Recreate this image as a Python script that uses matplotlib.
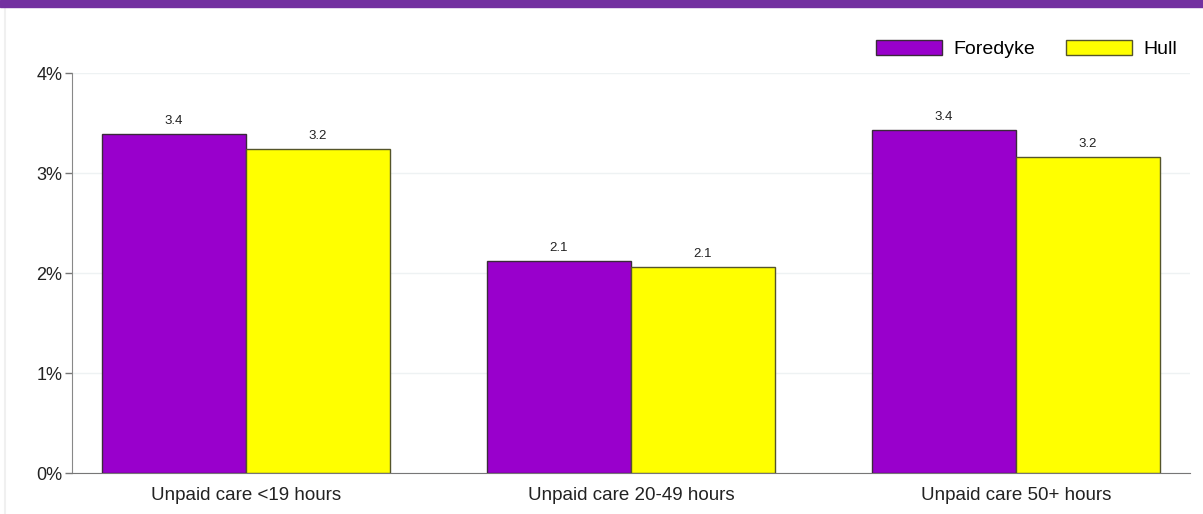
import matplotlib
matplotlib.use('Agg')
import matplotlib.pyplot as plt
from matplotlib.patches import Rectangle
from matplotlib.lines import Line2D
import numpy as np

plt.rcParams['font.family'] = ['Liberation Sans', 'DejaVu Sans']

categories = ["Unpaid care <19 hours", "Unpaid care 20-49 hours", "Unpaid care 50+ hours"]
foredyke   = [3.39, 2.12, 3.43]
hull       = [3.24, 2.06, 3.16]
y_ticks    = [0, 1, 2, 3, 4]

PURPLE = "#9900cc"
YELLOW = "#ffff00"

fig = plt.figure(figsize=(12.03, 5.14), dpi=100)
ax = fig.add_axes([72 / 1203, 1 - 473 / 514, (1190 - 72) / 1203, 400 / 514])

x = np.arange(len(categories))
w = 0.374
b1 = ax.bar(x - w / 2, foredyke, w, color=PURPLE, edgecolor="#3a2a3a", linewidth=1, label="Foredyke", zorder=3)
b2 = ax.bar(x + w / 2, hull, w, color=YELLOW, edgecolor="#55552a", linewidth=1, label="Hull", zorder=3)
ax.bar_label(b1, fmt="%.1f", padding=5, fontsize=9.5, color="#222222")
ax.bar_label(b2, fmt="%.1f", padding=5, fontsize=9.5, color="#222222")

ax.set_xlim(-0.452, 2.452)
ax.set_ylim(0, 4)
ax.set_yticks(y_ticks)
ax.set_yticklabels([f"{t}%" for t in y_ticks])
ax.set_xticks(x)
ax.set_xticklabels(categories)
ax.tick_params(axis="x", length=0, pad=10, labelsize=13.5, colors="#222222")
ax.tick_params(axis="y", length=5, width=1, color="#777777", pad=2, labelsize=13, labelcolor="#222222")
ax.grid(axis="y", color="#eef2f3", linewidth=1, zorder=0)

for s in ["top", "right"]:
    ax.spines[s].set_visible(False)
ax.spines["left"].set_color("#888888")
ax.spines["bottom"].set_color("#777777")

fig.legend(loc="center right", bbox_to_anchor=(1177 / 1203, 1 - 49 / 514), ncol=2,
           frameon=False, fontsize=14, handlelength=3.4, handleheight=0.85,
           handletextpad=0.57, columnspacing=1.6, borderaxespad=0, borderpad=0)

# purple header band and faint left border
fig.add_artist(Rectangle((0, 1 - 7 / 514), 1, 7 / 514, transform=fig.transFigure,
                         color="#7331a0", zorder=5))
fig.add_artist(Line2D([5 / 1203, 5 / 1203], [0, 1 - 8 / 514], transform=fig.transFigure,
                      color="#f0f0f0", linewidth=1.5))

fig.savefig("out.png", dpi=100)
